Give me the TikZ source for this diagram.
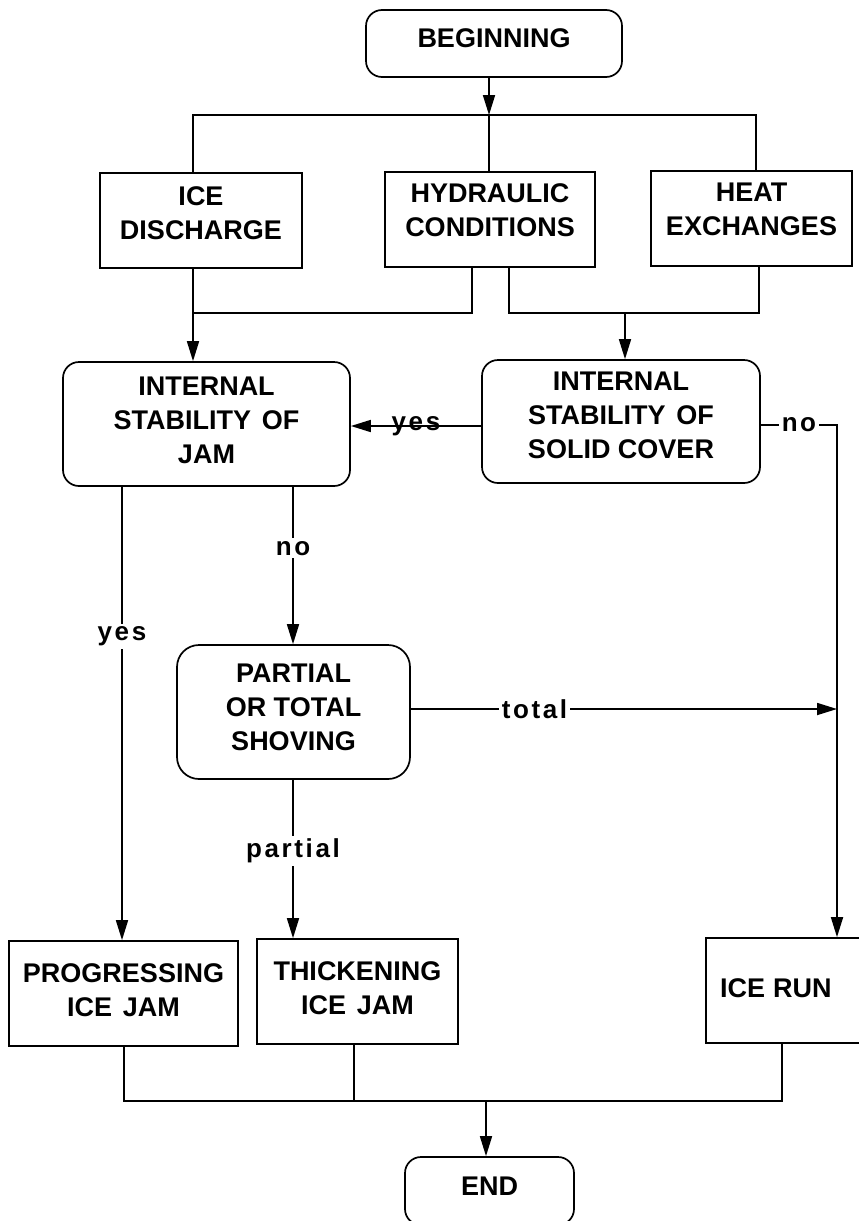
\documentclass[tikz,border=0pt]{standalone}
\usepackage{fontspec}
\setmainfont{Liberation Sans}
\usetikzlibrary{arrows.meta}
\begin{document}
\begin{tikzpicture}[x=1pt,y=-1pt, line width=1.7pt,
  box/.style={draw, rectangle, inner sep=0pt},
  rbox/.style={box, rounded corners=16pt},
  txt/.style={font=\fontsize{27}{34}\selectfont\bfseries, align=center, inner sep=0pt},
  lab/.style={font=\fontsize{26}{30}\selectfont\bfseries\addfontfeatures{LetterSpace=10}, fill=white, inner sep=3pt},
  labn/.style={lab, fill=none},
  arr/.style={-{Triangle[length=20pt,width=12pt]}}]
\useasboundingbox (0,0) rectangle (859,1221);

% boxes
\node[rbox, minimum width=256pt, minimum height=67pt, label={[txt,yshift=5pt]center:BEGINNING}] (beg) at (494,43.5) {};
\node[box, minimum width=202pt, minimum height=95pt, label={[txt,yshift=7pt]center:{ICE\\DISCHARGE}}] (ice) at (201,220.5) {};
\node[box, minimum width=210pt, minimum height=95pt, label={[txt,yshift=9pt]center:{HYDRAULIC\\CONDITIONS}}] (hyd) at (490,219.5) {};
\node[box, minimum width=201pt, minimum height=95pt, label={[txt,yshift=9pt]center:{HEAT\\EXCHANGES}}] (heat) at (751.5,218.5) {};
\node[rbox, minimum width=287pt, minimum height=124pt, label={[txt,yshift=4pt]center:{INTERNAL\\STABILITY\hspace{0.4em}OF\\JAM}}] (jam) at (206.5,424) {};
\node[rbox, minimum width=278pt, minimum height=123pt, label={[txt,yshift=6pt]center:{INTERNAL\\STABILITY\hspace{0.4em}OF\\SOLID COVER}}] (cover) at (621,421.5) {};
\node[rbox, rounded corners=22pt, minimum width=233pt, minimum height=134pt, label={[txt,yshift=5pt]center:{PARTIAL\\OR TOTAL\\SHOVING}}] (shov) at (293.5,712) {};
\node[box, minimum width=229pt, minimum height=105pt, label={[txt,yshift=3pt]center:{PROGRESSING\\ICE\hspace{0.4em}JAM}}] (prog) at (123.5,993.5) {};
\node[box, minimum width=201pt, minimum height=105pt, label={[txt,yshift=3pt]center:{THICKENING\\ICE\hspace{0.4em}JAM}}] (thick) at (357.5,991.5) {};
\node[box, minimum width=164pt, minimum height=105pt, label={[txt,anchor=west,xshift=14pt,yshift=2pt]west:{ICE\hspace{0.3em}RUN}}] (run) at (788,990.5) {};
\node[rbox, minimum width=169pt, minimum height=68pt, label={[txt,yshift=5pt]center:END}] (endn) at (489.5,1191) {};

% coordinates for connector routes
\coordinate (b1) at (489,115);
\coordinate (t1) at (193,115);
\coordinate (t3) at (756,115);
\coordinate (m1) at (193,313);
\coordinate (m2) at (472,313);
\coordinate (m3) at (509,313);
\coordinate (m4) at (759,313);
\coordinate (m5) at (625,313);
\coordinate (yy) at (0,426);
\coordinate (r1) at (837,425);
\coordinate (tt) at (837,709);
\coordinate (j1) at (122,0);
\coordinate (j2) at (293,0);
\coordinate (e1) at (124,1101);
\coordinate (e2) at (486,1101);
\coordinate (e3) at (782,1101);
\coordinate (e4) at (354,1101);

% top
\draw[arr] (beg.south -| b1) -- (b1);
\draw (ice.north -| t1) -- (t1) -- (t3) -- (heat.north -| t3);
\draw (b1) -- (hyd.north -| b1);

% middle
\draw (ice.south -| m1) -- (m1) -- (m2) -- (hyd.south -| m2);
\draw[arr] (m1) -- (jam.north -| m1);
\draw (hyd.south -| m3) -- (m3) -- (m4) -- (heat.south -| m4);
\draw[arr] (m5) -- (cover.north -| m5);

% decisions
\draw[arr] (cover.west |- yy) -- node[labn]{yes} (jam.east |- yy);
\draw[arr] (cover.east |- r1) -- node[lab]{no} (r1) -- (run.north -| r1);
\draw[arr] (jam.south -| j1) -- node[lab, pos=0.33]{yes} (prog.north -| j1);
\draw[arr] (jam.south -| j2) -- node[lab, pos=0.39]{no} (shov.north -| j2);
\draw[arr] (shov.south -| j2) -- node[lab, pos=0.45]{partial} (thick.north -| j2);
\draw[arr] (shov.east |- tt) -- node[lab, pos=0.29]{total} (tt);

% bottom
\draw (prog.south -| e1) -- (e1) -- (e3) -- (run.south -| e3);
\draw (thick.south -| e4) -- (e4);
\draw[arr] (e2) -- (endn.north -| e2);
\end{tikzpicture}
\end{document}
